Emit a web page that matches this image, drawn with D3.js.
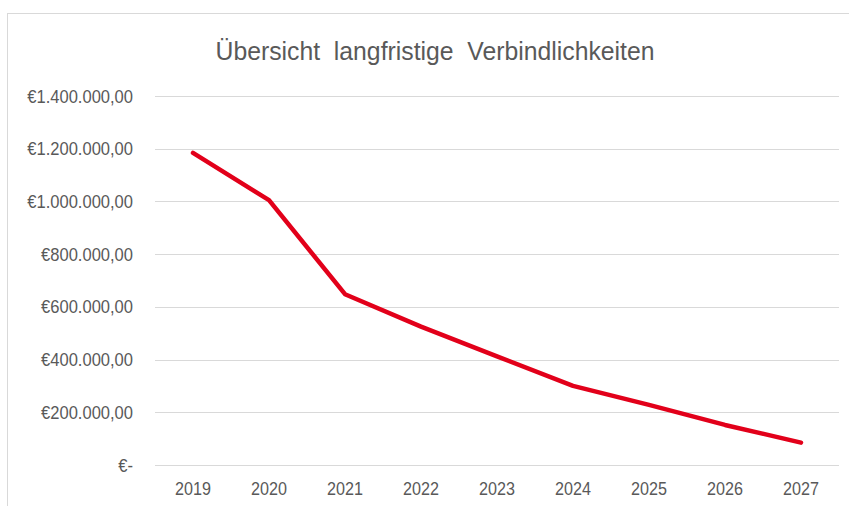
<!DOCTYPE html>
<html>
<head>
<meta charset="utf-8">
<script src="https://cdn.jsdelivr.net/npm/d3@7"></script>
<style>
  html, body { margin: 0; padding: 0; background: #fff; }
  svg { display: block; }
  text { font-family: "Liberation Sans Narrow", "Arial Narrow", "Liberation Sans", Arial, sans-serif; fill: #595959; }
</style>
</head>
<body>
<svg id="chart" width="849" height="506"></svg>
<script>
const title = "Übersicht  langfristige  Verbindlichkeiten";
const years = ["2019", "2020", "2021", "2022", "2023", "2024", "2025", "2026", "2027"];
const values = [1184000, 1005000, 648000, 525000, 412000, 300000, 228000, 152000, 85000];
const yTicks = [0, 200000, 400000, 600000, 800000, 1000000, 1200000, 1400000];

const svg = d3.select("#chart");
const plot = { left: 155, right: 839, top: 96, bottom: 465 };
const narrow = 0.85;

// frame
svg.append("rect")
  .attr("x", 7.5).attr("y", 13.5)
  .attr("width", 900).attr("height", 600)
  .attr("fill", "none").attr("stroke", "#d9d9d9").attr("stroke-width", 1);

const x = d3.scaleBand().domain(years).range([plot.left, plot.right]).paddingInner(0).paddingOuter(0);
const y = d3.scaleLinear().domain([0, 1400000]).range([plot.bottom, plot.top]);

const fmt = v => v === 0 ? "€-" : "€" + d3.format(",.2f")(v).replace(/,/g, "X").replace(/\./g, ",").replace(/X/g, ".");

function condense(sel, factor) {
  sel.each(function () {
    const w = this.getComputedTextLength();
    d3.select(this).attr("textLength", w * factor).attr("lengthAdjust", "spacingAndGlyphs");
  });
}

// grid
svg.append("g").selectAll("line").data(yTicks).join("line")
  .attr("x1", plot.left).attr("x2", plot.right)
  .attr("y1", d => Math.round(y(d)) + 0.5).attr("y2", d => Math.round(y(d)) + 0.5)
  .attr("stroke", "#d9d9d9").attr("stroke-width", 1);

// y labels
const yAxis = d3.axisLeft(y).tickValues(yTicks).tickFormat(fmt).tickSize(0).tickPadding(0);
const yg = svg.append("g").attr("transform", `translate(${plot.left - 22},0)`).call(yAxis);
yg.select(".domain").remove();
yg.selectAll("text").attr("font-size", 19).attr("fill", "#595959")
  .style("font-family", '"Liberation Sans", Arial, sans-serif')
  .call(condense, 0.87);

// x labels
const xAxis = d3.axisBottom(x).tickSize(0).tickPadding(0);
const xg = svg.append("g").attr("transform", `translate(0,${plot.bottom + 16})`).call(xAxis);
xg.select(".domain").remove();
xg.selectAll("text").attr("font-size", 19).attr("fill", "#595959")
  .style("font-family", '"Liberation Sans", Arial, sans-serif')
  .call(condense, narrow);

// line
const line = d3.line().x((d, i) => x(years[i]) + x.bandwidth() / 2).y(d => y(d));
svg.append("path").datum(values)
  .attr("d", line)
  .attr("fill", "none").attr("stroke", "#e2001a").attr("stroke-width", 4.5)
  .attr("stroke-linecap", "round").attr("stroke-linejoin", "round");

// title
svg.append("text")
  .attr("x", 435).attr("y", 60)
  .attr("text-anchor", "middle")
  .attr("font-size", 26)
  .attr("fill", "#595959")
  .style("white-space", "pre")
  .style("font-family", '"Liberation Sans", Arial, sans-serif')
  .attr("textLength", 439).attr("lengthAdjust", "spacingAndGlyphs")
  .text(title);
</script>
</body>
</html>
